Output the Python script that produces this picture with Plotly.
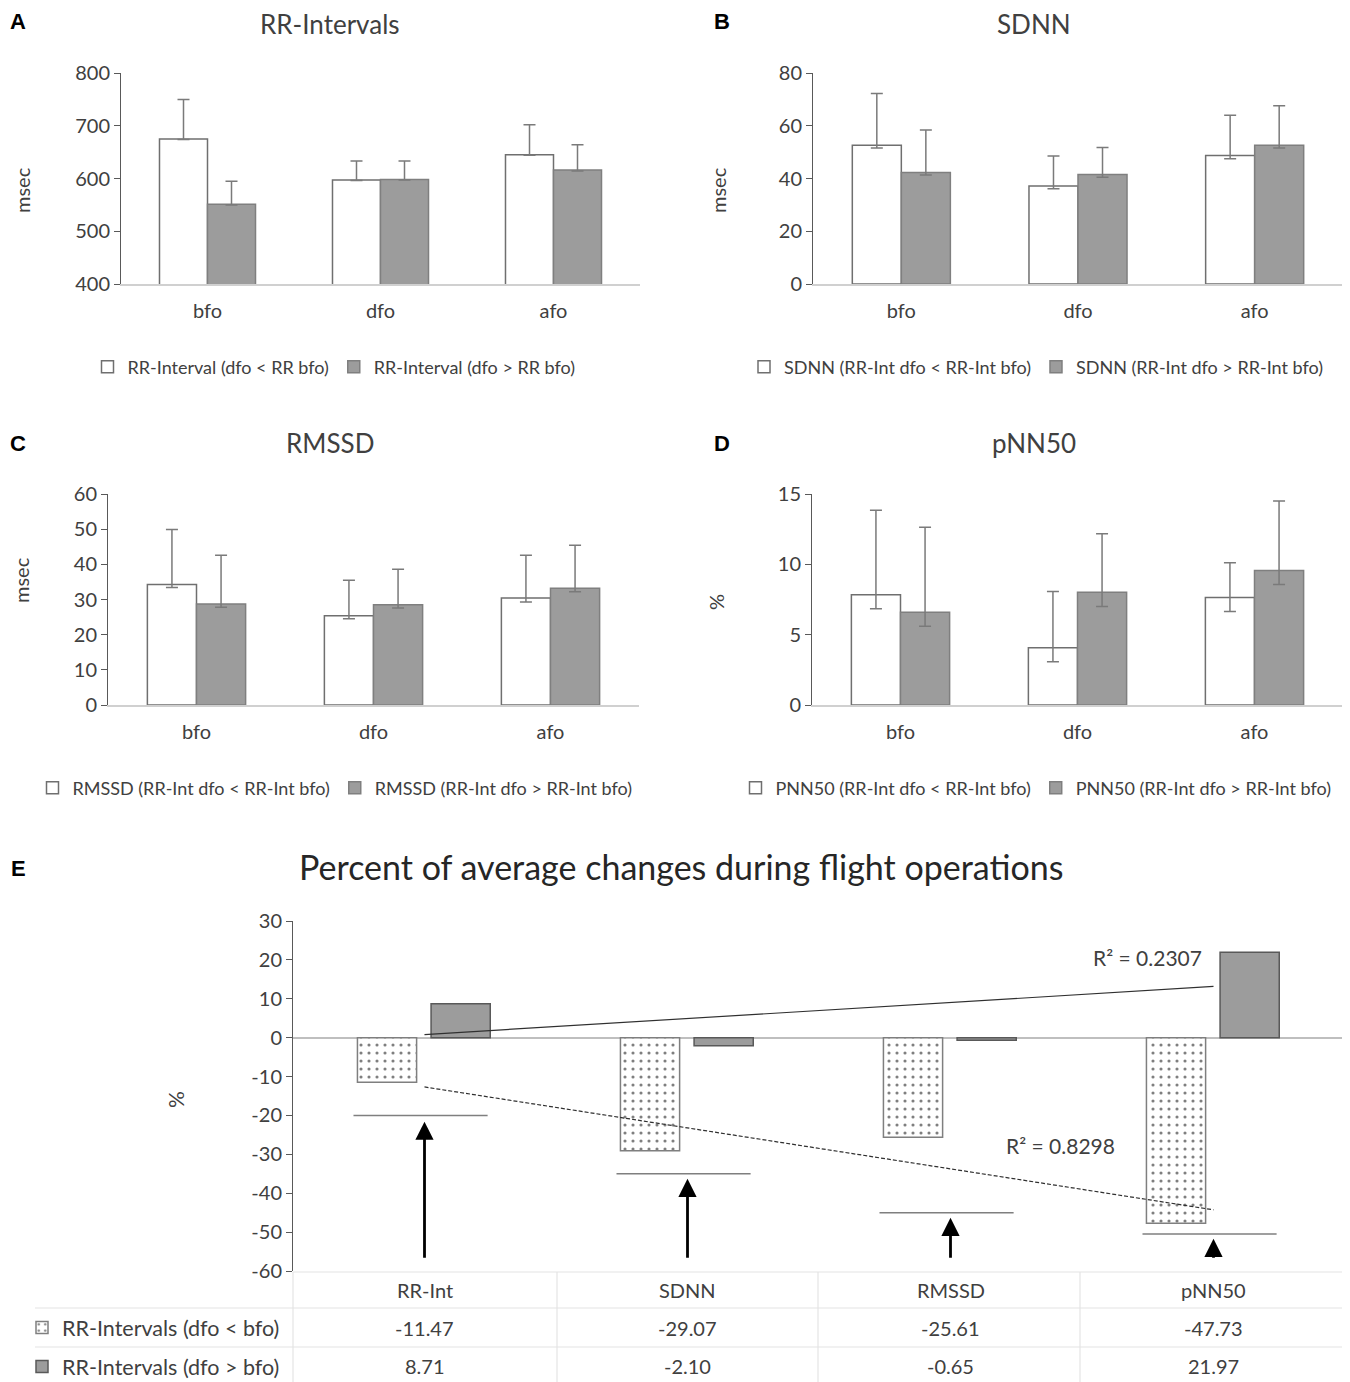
import numpy as np
import plotly.graph_objects as go

# page body has an 8px margin: the figure is drawn from (8, 8) of the window
OFF = 8
W, H = 1350 - OFF, 1382 - OFF
FONT = "Lato"
TXT = "#404040"

# ---------------- data ----------------
cats = ["bfo", "dfo", "afo"]

rr_low = [675, 597, 645]
rr_low_plus = [75, 36, 57]
rr_low_minus = [1, 1, 1]
rr_high = [551, 598, 616]
rr_high_plus = [44, 35, 48]
rr_high_minus = [1, 1, 2]

sdnn_low = [52.6, 37.2, 48.7]
sdnn_low_plus = [19.6, 11.3, 15.3]
sdnn_low_minus = [1.0, 1.1, 1.2]
sdnn_high = [42.3, 41.5, 52.6]
sdnn_high_plus = [16.1, 10.3, 15.0]
sdnn_high_minus = [1.0, 1.0, 1.0]

rmssd_low = [34.3, 25.4, 30.4]
rmssd_low_plus = [15.6, 10.1, 12.2]
rmssd_low_minus = [0.9, 0.9, 1.1]
rmssd_high = [28.7, 28.5, 33.2]
rmssd_high_plus = [13.9, 10.1, 12.2]
rmssd_high_minus = [0.9, 0.9, 1.0]

pnn_low = [7.84, 4.07, 7.65]
pnn_low_plus = [6.0, 4.0, 2.46]
pnn_low_minus = [1.0, 1.0, 1.0]
pnn_high = [6.59, 8.01, 9.57]
pnn_high_plus = [6.04, 4.17, 4.93]
pnn_high_minus = [1.0, 1.0, 1.0]

e_cats = ["RR-Int", "SDNN", "RMSSD", "pNN50"]
e_low = [-11.47, -29.07, -25.61, -47.73]
e_high = [8.71, -2.10, -0.65, 21.97]
e_sig_level = [-20, -35, -45, -50.5]
e_arrow_tip = [-21.6, -36.3, -46.3, -51.7]
e_arrow_tail = -57
e_row_names = ["RR-Intervals (dfo < bfo)", "RR-Intervals (dfo > bfo)"]
e_r2_high = "0.2307"
e_r2_low = "0.8298"
e_yticks = list(range(-60, 31, 10))


def fx(p):
    return (p - OFF) / W


def fy(p):
    return 1 - (p - OFF) / H


fig = go.Figure()

WHITE_LINE = "#6f6f6f"
GRAY_FILL = "#9c9c9c"
GRAY_LINE = "#7f7f7f"
ERR = dict(type="data", symmetric=False, color="#7a7a7a", thickness=1.5, width=6)

panels = [
    dict(n=1, x0=121, x1=640, y0=73, y1=284, yr=[400, 800], dt=100,
         title="RR-Intervals", tx=330, ty=24, letter="A", lx=18, lty=22, ylab="msec", ylx=22, yly=190,
         lgx=334, lgy=367,
         names=["RR-Interval (dfo < RR bfo)", "RR-Interval (dfo > RR bfo)"],
         v=[rr_low, rr_high], p=[rr_low_plus, rr_high_plus], m=[rr_low_minus, rr_high_minus]),
    dict(n=2, x0=813, x1=1343, y0=73, y1=284, yr=[0, 80], dt=20,
         title="SDNN", tx=1034, ty=24, letter="B", lx=722, lty=22, ylab="msec", ylx=718, yly=190,
         lgx=1036, lgy=367,
         names=["SDNN (RR-Int dfo < RR-Int bfo)", "SDNN (RR-Int dfo > RR-Int bfo)"],
         v=[sdnn_low, sdnn_high], p=[sdnn_low_plus, sdnn_high_plus], m=[sdnn_low_minus, sdnn_high_minus]),
    dict(n=3, x0=108, x1=639, y0=494, y1=705, yr=[0, 60], dt=10,
         title="RMSSD", tx=330, ty=443, letter="C", lx=18, lty=443, ylab="msec", ylx=21, yly=580,
         lgx=335, lgy=788,
         names=["RMSSD (RR-Int dfo < RR-Int bfo)", "RMSSD (RR-Int dfo > RR-Int bfo)"],
         v=[rmssd_low, rmssd_high], p=[rmssd_low_plus, rmssd_high_plus], m=[rmssd_low_minus, rmssd_high_minus]),
    dict(n=4, x0=812, x1=1343, y0=494, y1=705, yr=[0, 15], dt=5,
         title="pNN50", tx=1034, ty=443, letter="D", lx=722, lty=443, ylab="%", ylx=716, yly=602,
         lgx=1036, lgy=788,
         names=["PNN50 (RR-Int dfo < RR-Int bfo)", "PNN50 (RR-Int dfo > RR-Int bfo)"],
         v=[pnn_low, pnn_high], p=[pnn_low_plus, pnn_high_plus], m=[pnn_low_minus, pnn_high_minus]),
]

annotations = []
shapes = []
layout_axes = {}

for pn in panels:
    n = pn["n"]
    xa = "x" if n == 1 else f"x{n}"
    ya = "y" if n == 1 else f"y{n}"
    lg = "legend" if n == 1 else f"legend{n}"
    fills = ["white", GRAY_FILL]
    lines = [WHITE_LINE, GRAY_LINE]
    for k in range(2):
        fig.add_trace(go.Bar(
            x=cats, y=pn["v"][k], name=pn["names"][k], xaxis=xa, yaxis=ya, legend=lg,
            marker=dict(color=fills[k], line=dict(color=lines[k], width=1.5)),
            error_y=dict(ERR, array=pn["p"][k], arrayminus=pn["m"][k]),
        ))
    xkey = "xaxis" if n == 1 else f"xaxis{n}"
    ykey = "yaxis" if n == 1 else f"yaxis{n}"
    layout_axes[xkey] = dict(domain=[fx(pn["x0"]), fx(pn["x1"])], anchor=ya, type="category",
                             showline=True, linecolor="#d0d0d0", linewidth=2, ticks="",
                             showgrid=False, tickfont=dict(size=20, color=TXT, family=FONT),
                             ticklabelstandoff=8, automargin=False)
    layout_axes[ykey] = dict(domain=[fy(pn["y1"]), fy(pn["y0"])], anchor=xa, range=pn["yr"],
                             dtick=pn["dt"], showline=True, linecolor="#595959", linewidth=1,
                             ticks="outside", ticklen=6, tickcolor="#595959", showgrid=False,
                             zeroline=False, tickfont=dict(size=20, color=TXT, family=FONT),
                             automargin=False)
    layout_axes[lg] = dict(orientation="h", x=fx(pn["lgx"]), xanchor="center", y=fy(pn["lgy"]),
                           yanchor="middle", font=dict(size=18, color=TXT, family=FONT),
                           bgcolor="rgba(0,0,0,0)", itemwidth=30, traceorder="normal")
    annotations.append(dict(text=pn["title"], x=fx(pn["tx"]), y=fy(pn["ty"]), xref="paper", yref="paper",
                            showarrow=False, xanchor="center", yanchor="middle",
                            font=dict(size=26, color=TXT, family=FONT)))
    annotations.append(dict(text=f"<b>{pn['letter']}</b>", x=fx(pn["lx"]), y=fy(pn["lty"]), xref="paper",
                            yref="paper", showarrow=False, xanchor="center", yanchor="middle",
                            font=dict(size=22, color="black", family="Liberation Sans")))
    annotations.append(dict(text=pn["ylab"], x=fx(pn["ylx"]), y=fy(pn["yly"]), xref="paper", yref="paper",
                            showarrow=False, textangle=-90, xanchor="center", yanchor="middle",
                            font=dict(size=20, color=TXT, family=FONT)))

# ---------------- panel E ----------------
EX0, EX1, EY0, EY1 = 293, 1345, 921, 1271
BW = 0.225
fig.add_trace(go.Bar(
    x=e_cats, y=e_low, name=e_row_names[0], xaxis="x5", yaxis="y5", legend="legend5",
    legendgroup="a", width=BW, offset=-0.255,
    marker=dict(color="white", line=dict(color=GRAY_LINE, width=1.5),
                pattern=dict(shape=".", fgcolor="black", bgcolor="white", size=8, solidity=0.12)),
))
fig.add_trace(go.Bar(
    x=e_cats, y=e_high, name=e_row_names[1], xaxis="x5", yaxis="y5", legend="legend5",
    legendgroup="b", width=BW, offset=0.025,
    marker=dict(color=GRAY_FILL, line=dict(color="#595959", width=1.5)),
))

# linear trendlines (Excel-like) over category index 1..n
xi = np.arange(1, len(e_cats) + 1)
for vals, dash in [(e_high, "solid"), (e_low, "4px,2px")]:
    slope, icpt = np.polyfit(xi, vals, 1)
    fig.add_trace(go.Scatter(x=e_cats, y=slope * xi + icpt, mode="lines", xaxis="x5", yaxis="y5",
                             line=dict(color="#303030", width=1.2, dash=dash), showlegend=False,
                             hoverinfo="skip"))

annotations.append(dict(text=f"R² = {e_r2_high}", x=2.75, y=20.6, xref="x5", yref="y5",
                        showarrow=False, font=dict(size=21, color=TXT, family=FONT)))
annotations.append(dict(text=f"R² = {e_r2_low}", x=2.42, y=-27.8, xref="x5", yref="y5",
                        showarrow=False, font=dict(size=21, color=TXT, family=FONT)))

for i in range(len(e_cats)):
    shapes.append(dict(type="line", xref="x5", yref="y5", x0=i - 0.27, x1=i + 0.24,
                       y0=e_sig_level[i], y1=e_sig_level[i], line=dict(color="#7f7f7f", width=1.5)))
    annotations.append(dict(x=i, y=e_arrow_tip[i], ax=i, ay=e_arrow_tail, xref="x5", yref="y5",
                            axref="x5", ayref="y5", showarrow=True, arrowhead=2, arrowsize=1.3,
                            arrowwidth=2.8, arrowcolor="black", text=""))

layout_axes["xaxis5"] = dict(domain=[fx(EX0), fx(EX1)], anchor="y5", type="category", showline=False,
                             showticklabels=False, ticks="", showgrid=False, range=[-0.5, 3.5],
                             automargin=False)
layout_axes["yaxis5"] = dict(domain=[fy(EY1), fy(EY0)], anchor="x5", range=[-60, 30],
                             tickmode="array", tickvals=e_yticks, ticktext=[str(v) for v in e_yticks],
                             showline=True, linecolor="#595959", linewidth=1, ticks="outside",
                             ticklen=6, tickcolor="#595959", showgrid=False, zeroline=True,
                             zerolinecolor="#bfbfbf", zerolinewidth=1.5, automargin=False,
                             tickfont=dict(size=20, color=TXT, family=FONT))
layout_axes["legend5"] = dict(orientation="v", x=fx(22), xanchor="left", y=fy(1347), yanchor="middle",
                              font=dict(size=21.5, color=TXT, family=FONT), bgcolor="rgba(0,0,0,0)",
                              tracegroupgap=8, itemwidth=30)

annotations.append(dict(text="Percent of average changes during flight operations", x=fx(681), y=fy(866),
                        xref="paper", yref="paper", showarrow=False, xanchor="center", yanchor="middle",
                        font=dict(size=34, color="#262626", family=FONT)))
annotations.append(dict(text="<b>E</b>", x=fx(18), y=fy(868), xref="paper", yref="paper", showarrow=False,
                        xanchor="center", yanchor="middle",
                        font=dict(size=22, color="black", family="Liberation Sans")))
annotations.append(dict(text="%", x=fx(175), y=fy(1100), xref="paper", yref="paper", showarrow=False,
                        textangle=-90, xanchor="center", yanchor="middle",
                        font=dict(size=21, color=TXT, family=FONT)))

# data table under panel E
GRID = "#e4e4e4"
col_edges = [293, 557, 818, 1080, 1345]
row_ys = [1290, 1328, 1366]
shapes.append(dict(type="line", xref="paper", yref="paper", x0=fx(293), x1=fx(1345), y0=fy(1272), y1=fy(1272),
                   line=dict(color=GRID, width=1.2)))
for yy in [1308, 1347]:
    shapes.append(dict(type="line", xref="paper", yref="paper", x0=fx(35), x1=fx(1345), y0=fy(yy), y1=fy(yy),
                       line=dict(color=GRID, width=1.2)))
for xx in col_edges:
    shapes.append(dict(type="line", xref="paper", yref="paper", x0=fx(xx), x1=fx(xx), y0=fy(1272), y1=fy(1382),
                       line=dict(color=GRID, width=1.2)))
for i, c in enumerate(e_cats):
    for txt, ry in [(c, row_ys[0]), (f"{e_low[i]:.2f}", row_ys[1]), (f"{e_high[i]:.2f}", row_ys[2])]:
        annotations.append(dict(text=txt, x=i, y=fy(ry), xref="x5", yref="paper", showarrow=False,
                                yanchor="middle", font=dict(size=20, color=TXT, family=FONT)))

fig.update_layout(
    width=W, height=H, margin=dict(l=0, r=0, t=0, b=0, autoexpand=False),
    paper_bgcolor="white", plot_bgcolor="white",
    barmode="group", bargap=0.445, bargroupgap=0.0,
    font=dict(family=FONT, color=TXT),
    annotations=annotations, shapes=shapes,
    **layout_axes,
)

fig.write_html("out.html")
